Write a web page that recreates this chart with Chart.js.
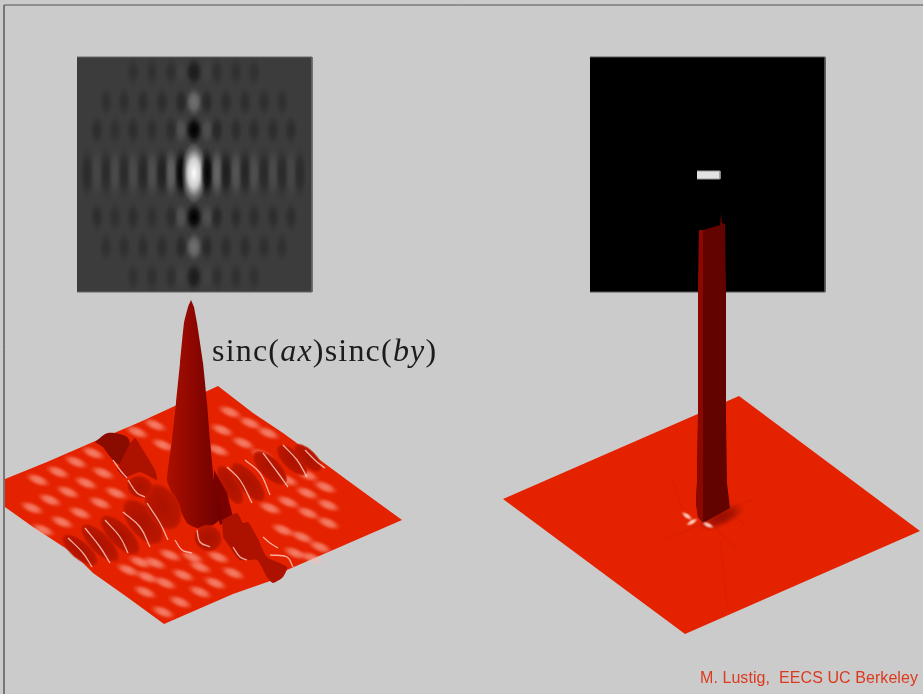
<!DOCTYPE html>
<html>
<head>
<meta charset="utf-8">
<script src="https://cdn.jsdelivr.net/npm/chart.js@4"></script>
<style>
  html, body { margin: 0; background: #cbcbcb; }
  #wrap { position: relative; width: 923px; height: 694px; overflow: hidden; }
  canvas { display: block; }
  .formula { position: absolute; left: 212px; top: 332px; font: 32px "Liberation Serif", serif; color: #1c1c1c; white-space: pre; letter-spacing: 1.2px; }
  .formula i { font-style: italic; }
  .credit { position: absolute; left: 700px; top: 669px; font: 16px "Liberation Sans", sans-serif; color: #dc3a1e; white-space: pre; letter-spacing: 0.07px; }
</style>
</head>
<body>
<div id="wrap">
  <canvas id="slide" width="923" height="694"></canvas>
  <div class="formula">sinc(<i>ax</i>)sinc(<i>by</i>)</div>
  <div class="credit">M. Lustig,  EECS UC Berkeley</div>
</div>
<script>
// lobes of the gray image, read row by row (neg = darker, pos = lighter than base)
const heatColX = [87, 97, 106, 115, 124, 133, 143, 152, 162, 171, 181, 194, 207, 217, 226, 236, 245, 254, 264, 273, 282, 291, 300];
const heatRowY = [72, 102, 130, 173, 217, 247, 277];
const rowOuter = [0, 0, 0, 0, 0, -.18, 0, -.2, 0, -.2, .03, -.55, .03, -.2, 0, -.2, 0, -.18, 0, 0, 0, 0, 0];
const rowInner = [0, 0, -.2, 0, -.22, 0, -.24, 0, -.25, 0, -.32, .27, -.32, 0, -.25, 0, -.24, 0, -.22, 0, -.2, 0, 0];
const rowNear = [0, -.25, 0, -.2, 0, -.25, 0, -.2, 0, -.25, .12, -1, .1, -.35, 0, -.25, 0, -.25, 0, -.25, 0, -.25, 0];
const rowCentre = [-.28, .06, -.28, .08, -.3, .08, -.34, .1, -.45, .2, -.95, 1, -.95, .22, -.5, .13, -.38, .1, -.32, .08, -.3, .06, -.28];
const heatRows = [rowOuter, rowInner, rowNear, rowCentre, rowNear, rowInner, rowOuter];

// left surface
const leftEdgeX = [5, 47, 93, 140, 177, 218, 253, 283, 320, 347, 402, 333, 287, 273, 233, 164, 127, 93, 73, 33, 5];
const leftEdgeY = [479, 462, 442, 422, 405, 386, 413, 433, 460, 480, 520, 550, 570, 580, 594, 624, 597, 573, 553, 527, 507];
const peakX = [191, 188, 184, 180, 176, 172, 167, 172, 187, 197, 213, 222, 214, 210, 207, 203, 197, 194];
const peakY = [300, 307, 323, 363, 403, 440, 480, 493, 523, 528, 525, 517, 480, 440, 403, 363, 323, 307];
const wedgeX = [214, 227, 233, 220, 214];
const wedgeY = [470, 493, 517, 525, 500];
const lumpTipX = [117, 128, 135, 143, 155, 157, 140, 125];
const lumpTipY = [470, 447, 438, 450, 470, 480, 472, 478];
const lumpBackX = [95, 108, 127, 130, 122, 113, 103];
const lumpBackY = [442, 433, 437, 447, 465, 460, 447];
const lumpBX = [222, 237, 243, 248, 257, 267, 287, 283, 273, 267, 257, 240, 230, 223];
const lumpBY = [520, 513, 523, 522, 537, 557, 567, 577, 583, 577, 560, 560, 547, 537];
// sprites behind the peak first, then the ones in front of it
const backLobeX = [230, 248, 270, 292, 308];
const backLobeY = [485, 482, 468, 460, 458];
const backLobeLong = [22, 24, 22, 20, 18];
const backLobeWide = [9, 10, 10, 9, 8];
const backLobeTilt = [60, 50, 45, 45, 45];
const frontLobeX = [80, 100, 120, 143, 163, 140, 208];
const frontLobeY = [550, 543, 535, 522, 507, 487, 538];
const frontLobeLong = [22, 25, 26, 27, 25, 13, 14];
const frontLobeWide = [9, 10, 11, 14, 16, 11, 13];
const frontLobeTilt = [40, 45, 45, 50, 60, 20, 20];
const spotX = [93, 76, 58, 38, 103, 86, 68, 50, 32, 116, 100, 80, 62, 43, 137, 155, 163, 230, 250, 268, 222, 243, 262, 218,
  307, 325, 287, 307, 328, 270, 288, 308, 328, 283, 302, 320, 295, 312, 140, 155, 170, 192, 128, 147, 200, 183, 218, 215, 165, 145, 200, 163, 180, 233];
const spotY = [453, 462, 472, 480, 473, 483, 492, 500, 508, 493, 503, 513, 522, 530, 432, 425, 445, 412, 423, 433, 430, 443, 455, 450,
  475, 487, 480, 493, 505, 508, 502, 513, 523, 530, 537, 547, 553, 558, 562, 563, 555, 557, 570, 577, 567, 575, 557, 583, 583, 592, 592, 612, 602, 573];
// thin bright rims, three points each
const rimX = [[68, 83, 92], [85, 100, 110], [105, 120, 128], [123, 140, 150], [147, 160, 168], [227, 240, 252], [245, 260, 270], [263, 278, 288], [283, 297, 307], [305, 317, 325], [113, 120, 127], [128, 137, 145], [197, 200, 210], [233, 240, 247], [270, 287, 293], [175, 182, 192], [263, 270, 278]];
const rimY = [[538, 553, 567], [528, 547, 563], [520, 537, 553], [512, 527, 547], [503, 523, 540], [467, 480, 503], [460, 473, 495], [453, 473, 487], [445, 460, 477], [450, 462, 468], [460, 470, 478], [480, 493, 497], [530, 542, 547], [547, 557, 560], [555, 557, 567], [540, 550, 553], [537, 543, 548]];

// right surface
const rightEdgeX = [503, 739, 920, 685];
const rightEdgeY = [499, 396, 531, 634];
const columnX = [699, 698, 698, 697, 696, 698, 703, 730, 727, 726, 726, 725, 722, 721, 720, 710, 703];
const columnY = [230, 293, 417, 483, 503, 517, 523, 508, 483, 417, 293, 224, 223, 213, 225, 228, 230];
const columnLitX = [699, 698, 698, 697, 696, 698, 703, 703, 703, 703];
const columnLitY = [230, 293, 417, 483, 503, 517, 523, 483, 293, 230];
const rayX = [[703, 665], [683, 672], [730, 756], [730, 745], [717, 736], [720, 727]];
const rayY = [[523, 540], [510, 478], [508, 498], [512, 525], [530, 548], [540, 605]];
const glintX = [692, 708, 687];
const glintY = [522, 525, 516];
const glintTilt = [-30, 25, 35];

// images and slide frame
const imageLeftX = [77, 312, 312, 77];
const imageRightX = [590, 825, 825, 590];
const imageY = [57, 57, 292, 292];
const barX = [697, 720, 720, 697];
const barY = [171, 171, 179, 179];
const frameX = [4, 4];
const frameY = [694, 5];
const frameTopX = [4, 923];
const frameTopY = [5, 5];

const pairs = (xs, ys) => xs.map((x, i) => ({ x, y: ys[i] }));

function softSprite(rx, ry, rgb, alpha) {
  const c = document.createElement("canvas");
  c.width = Math.ceil(rx * 2);
  c.height = Math.ceil(ry * 2);
  const g = c.getContext("2d");
  g.translate(c.width / 2, c.height / 2);
  g.scale(rx, ry);
  const grad = g.createRadialGradient(0, 0, 0, 0, 0, 1);
  grad.addColorStop(0, `rgba(${rgb},${alpha})`);
  grad.addColorStop(0.45, `rgba(${rgb},${alpha * 0.75})`);
  grad.addColorStop(0.75, `rgba(${rgb},${alpha * 0.25})`);
  grad.addColorStop(1, `rgba(${rgb},0)`);
  g.fillStyle = grad;
  g.arc(0, 0, 1, 0, Math.PI * 2);
  g.fill();
  return c;
}

function lobeSprite(rx, ry) {
  const c = document.createElement("canvas");
  c.width = Math.ceil(rx * 2) + 2;
  c.height = Math.ceil(ry * 2) + 2;
  const g = c.getContext("2d");
  g.translate(c.width / 2, c.height / 2);
  g.scale(rx, ry);
  const grad = g.createRadialGradient(0, 0, 0, 0, 0, 1);
  grad.addColorStop(0, "rgba(170,18,0,1)");
  grad.addColorStop(0.85, "rgba(186,22,0,1)");
  grad.addColorStop(1, "rgba(205,28,0,0.75)");
  g.fillStyle = grad;
  g.arc(0, 0, 1, 0, Math.PI * 2);
  g.fill();
  return c;
}

function polygon(xs, ys, color, extra) {
  return Object.assign({ data: pairs(xs, ys), showLine: true, fill: "shape", backgroundColor: color, borderColor: color, borderWidth: 0, pointRadius: 0 }, extra);
}

function stroke(xs, ys, color, width, extra) {
  return Object.assign({ data: pairs(xs, ys), showLine: true, fill: false, borderColor: color, borderWidth: width, pointRadius: 0 }, extra);
}

function sprites(xs, ys, images, tilts) {
  return {
    data: pairs(xs, ys), showLine: false, pointRadius: 10,
    pointStyle: (c) => images[c.dataIndex],
    pointRotation: (c) => (tilts ? tilts[c.dataIndex] : 0),
  };
}

// gradient for the tall peak, in canvas pixels
const ctx = document.getElementById("slide").getContext("2d");
const peakFill = ctx.createLinearGradient(167, 0, 222, 0);
peakFill.addColorStop(0, "#ab1000");
peakFill.addColorStop(0.45, "#8f0700");
peakFill.addColorStop(1, "#6e0100");

const heatX = [], heatY = [], heatImg = [];
heatRows.forEach((row, r) => {
  row.forEach((v, c) => {
    if (!v) return;
    const centreRow = r === 3;
    const middle = c === 11;
    const rx = middle ? (centreRow ? 13 : 9) : 7;
    const ry = centreRow ? (middle ? 31 : 27) : 15;
    heatX.push(heatColX[c]);
    heatY.push(heatRowY[r]);
    heatImg.push(softSprite(rx, ry, v > 0 ? "255,255,255" : "0,0,0", Math.abs(v)));
  });
});

const spotImg = spotX.map(() => softSprite(14, 6, "255,190,175", 0.6));
const spotTilt = spotX.map(() => 22);
const backLobeImg = backLobeX.map((_, i) => lobeSprite(backLobeLong[i], backLobeWide[i]));
const frontLobeImg = frontLobeX.map((_, i) => lobeSprite(frontLobeLong[i], frontLobeWide[i]));

const datasets = [
  stroke(frameX, frameY, "#222222", 1),
  stroke(frameTopX, frameTopY, "#555555", 1),
  polygon(imageLeftX, imageY, "#3c3c3c", { borderColor: "#666666", borderWidth: 1 }),
  sprites(heatX, heatY, heatImg),
  polygon(imageRightX, imageY, "#000000", { borderColor: "#555555", borderWidth: 1 }),
  polygon(barX, barY, "#e2e2e2", { borderColor: "#9a9a9a", borderWidth: 1 }),

  polygon(leftEdgeX, leftEdgeY, "#e52200"),
  sprites(spotX, spotY, spotImg, spotTilt),
  polygon(lumpBackX, lumpBackY, "#8a0b00", { tension: 0.3 }),
  polygon(lumpTipX, lumpTipY, "#ad1200", { tension: 0.15 }),
  sprites(backLobeX, backLobeY, backLobeImg, backLobeTilt),
  polygon(wedgeX, wedgeY, "#7a0100"),
  polygon(peakX, peakY, peakFill, { tension: 0.15 }),
  polygon(lumpBX, lumpBY, "#ad1200", { tension: 0.2 }),
  sprites(frontLobeX, frontLobeY, frontLobeImg, frontLobeTilt),
];
rimX.forEach((xs, i) => datasets.push(stroke(xs, rimY[i], "rgba(255,210,200,0.8)", 1.3, { tension: 0.4 })));

datasets.push(
  polygon(rightEdgeX, rightEdgeY, "#e52200"),
  sprites([722], [517], [softSprite(26, 10, "120,5,0", 0.7)], [-25]),
);
rayX.forEach((xs, i) => datasets.push(stroke(xs, rayY[i], "rgba(150,15,0,0.1)", 1.5)));
datasets.push(
  polygon(columnX, columnY, "#620300"),
  polygon(columnLitX, columnLitY, "#8a0800"),
  sprites(glintX, glintY, glintX.map(() => softSprite(7, 3, "255,225,215", 0.95)), glintTilt),
);

datasets.forEach((d, i) => { d.order = -i; });

new Chart(ctx, {
  type: "scatter",
  data: { datasets },
  options: {
    responsive: false,
    animation: false,
    events: [],
    layout: { padding: 0, autoPadding: false },
    plugins: { legend: { display: false }, tooltip: { enabled: false } },
    scales: {
      x: { type: "linear", min: 0, max: 923, display: false },
      y: { type: "linear", min: 0, max: 694, reverse: true, display: false },
    },
  },
});
</script>
</body>
</html>
